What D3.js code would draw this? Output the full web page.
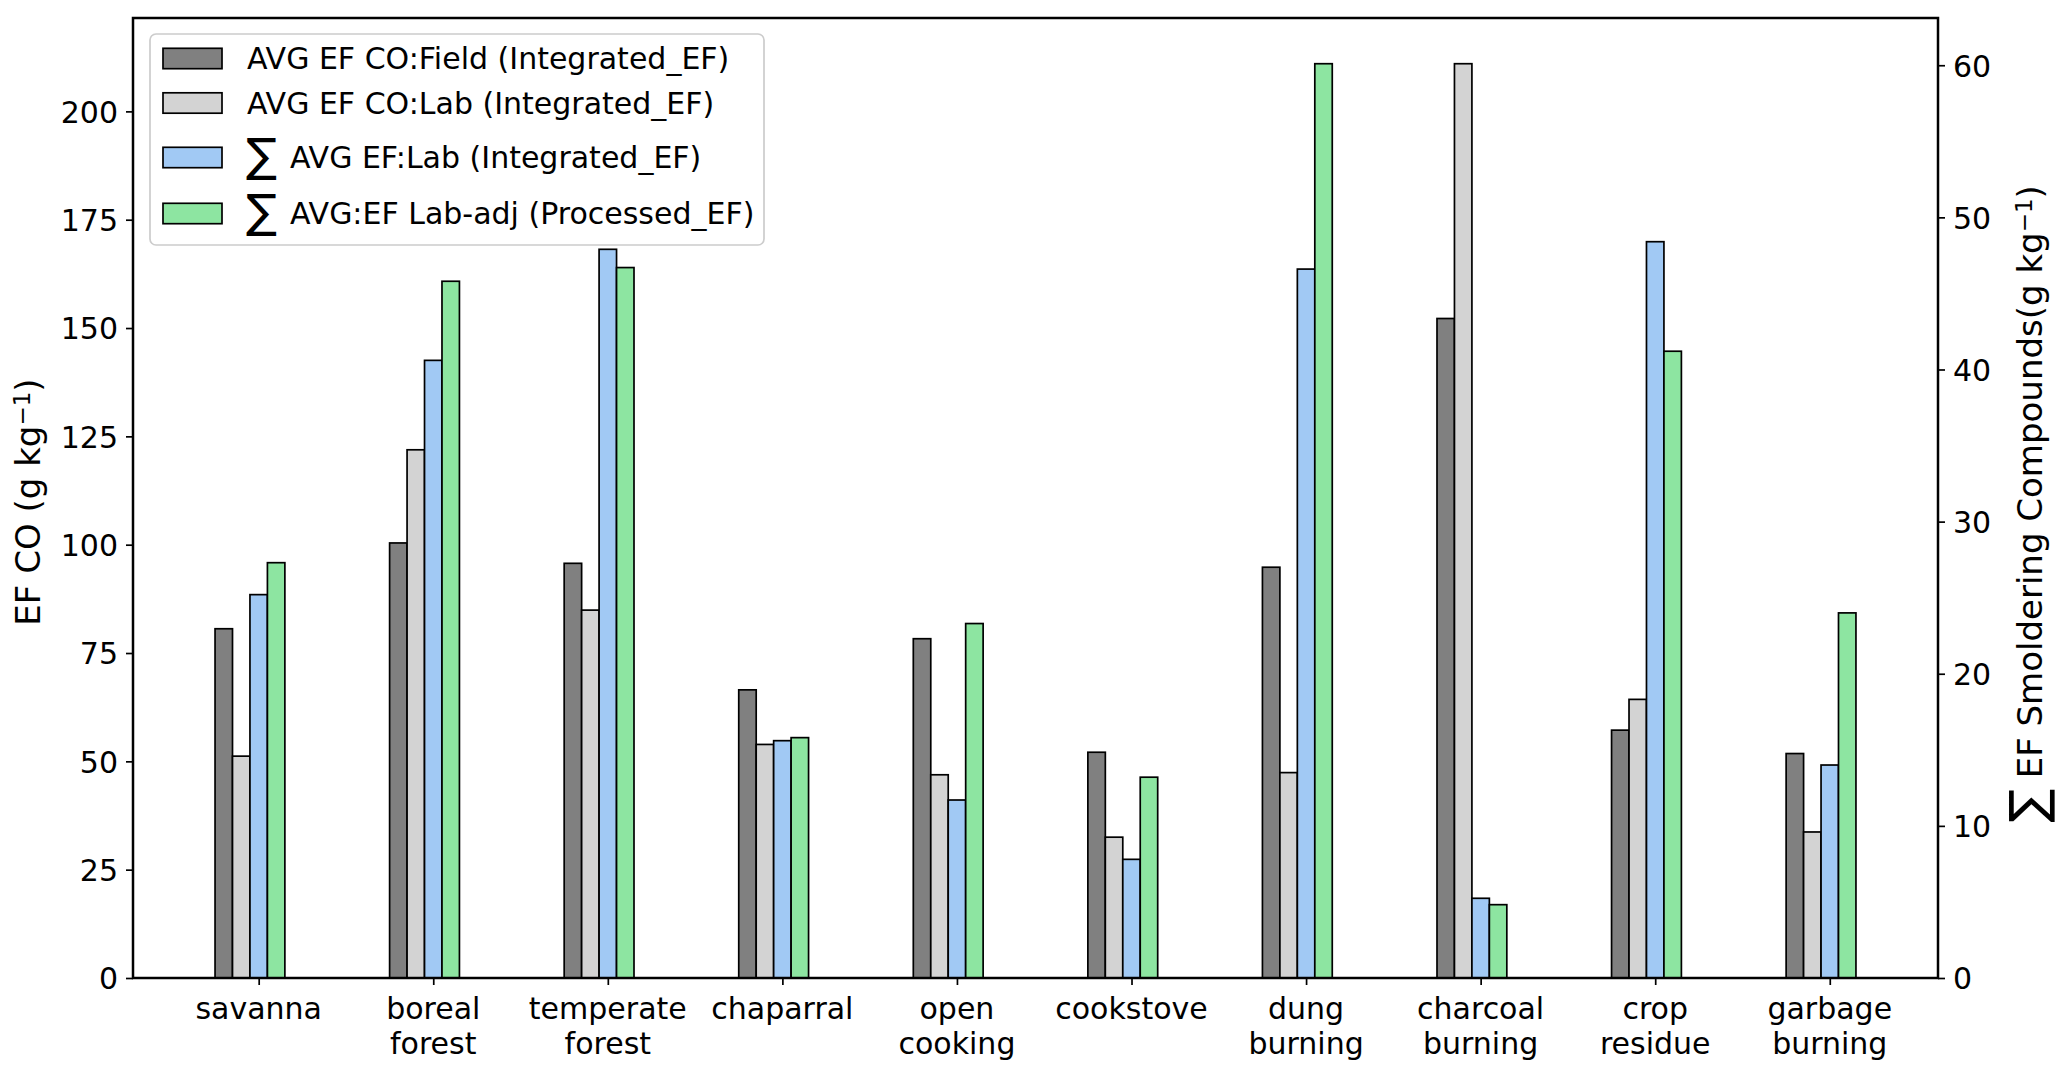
<!DOCTYPE html>
<html>
<head>
<meta charset="utf-8">
<script src="https://cdn.jsdelivr.net/npm/d3@7/dist/d3.min.js"></script>
<style>
  html, body { margin: 0; padding: 0; background: #fff; }
  svg { display: block; }
  text { font-family: "DejaVu Sans", sans-serif; fill: #000; }
</style>
</head>
<body>
<svg id="chart" width="2067" height="1075"></svg>
<script>
// ---- data ----
const categories = ["savanna", "boreal\nforest", "temperate\nforest", "chaparral", "open\ncooking",
                    "cookstove", "dung\nburning", "charcoal\nburning", "crop\nresidue", "garbage\nburning"];
const coField = [80.6, 100.4, 95.7, 66.5, 78.3, 52.1, 94.8, 152.2, 57.2, 51.8];
const coLab   = [51.2, 121.9, 84.9, 53.9, 46.9, 32.5, 47.4, 211.0, 64.3, 33.7];
const sumLab  = [25.2, 40.6, 47.9, 15.6, 11.7, 7.8, 46.6, 5.24, 48.4, 14.0];
const sumAdj  = [27.3, 45.8, 46.7, 15.8, 23.3, 13.2, 60.1, 4.82, 41.2, 24.0];
const leftTicks  = [0, 25, 50, 75, 100, 125, 150, 175, 200];
const rightTicks = [0, 10, 20, 30, 40, 50, 60];
const legendLabels = [
  {sum: false, text: "AVG EF CO:Field (Integrated_EF)"},
  {sum: false, text: "AVG EF CO:Lab (Integrated_EF)"},
  {sum: true,  text: "AVG EF:Lab (Integrated_EF)"},
  {sum: true,  text: "AVG:EF Lab-adj (Processed_EF)"}
];
const colors = ["#808080", "#d3d3d3", "#a1c9f4", "#8de5a1"];

// ---- layout ----
const L = 133, R = 1938, T = 18, B = 978;
const barW = 0.1;
const offsets = [-0.2, -0.1, 0, 0.1];
const svg = d3.select("#chart");

const xMin = -0.25, xMax = categories.length - 1 + 0.15, xPad = (xMax - xMin) * 0.05;
const x = d3.scaleLinear().domain([xMin - xPad, xMax + xPad]).range([L, R]);
const yL = d3.scaleLinear().domain([0, d3.max(coField.concat(coLab)) * 1.05]).range([B, T]);
const yR = d3.scaleLinear().domain([0, d3.max(sumLab.concat(sumAdj)) * 1.05]).range([B, T]);

const series = [
  {vals: coField, y: yL, color: colors[0]},
  {vals: coLab,   y: yL, color: colors[1]},
  {vals: sumLab,  y: yR, color: colors[2]},
  {vals: sumAdj,  y: yR, color: colors[3]}
];

const gBars = svg.append("g");
series.forEach((s, si) => {
  gBars.selectAll(null).data(s.vals).enter().append("rect")
    .attr("x", (d, i) => x(i + offsets[si] - barW / 2))
    .attr("width", (d, i) => x(i + offsets[si] + barW / 2) - x(i + offsets[si] - barW / 2))
    .attr("y", d => s.y(d))
    .attr("height", d => B - s.y(d))
    .attr("fill", s.color)
    .attr("stroke", "#000")
    .attr("stroke-width", 1.7);
});

// ---- axes ----
const tickFont = "30px";
const axL = svg.append("g").attr("transform", `translate(${L},0)`)
  .call(d3.axisLeft(yL).tickValues(leftTicks).tickSize(7).tickPadding(8).tickFormat(d3.format("d")));
const axR = svg.append("g").attr("transform", `translate(${R},0)`)
  .call(d3.axisRight(yR).tickValues(rightTicks).tickSize(7).tickPadding(8).tickFormat(d3.format("d")));
const axB = svg.append("g").attr("transform", `translate(0,${B})`)
  .call(d3.axisBottom(x).tickValues(d3.range(categories.length)).tickSize(7).tickFormat(""));
[axL, axR, axB].forEach(a => {
  a.select(".domain").remove();
  a.selectAll(".tick line").attr("stroke", "#000").attr("stroke-width", 1.7);
  a.selectAll(".tick text").style("font-size", tickFont).attr("font-family", "DejaVu Sans").attr("fill", "#000");
});
axL.selectAll(".tick text").attr("dy", "0.36em");
axR.selectAll(".tick text").attr("dy", "0.36em");

// x category labels (two lines)
const gx = svg.append("g");
categories.forEach((c, i) => {
  const lines = c.split("\n");
  const t = gx.append("text").attr("text-anchor", "middle").style("font-size", tickFont)
    .attr("x", x(i)).attr("y", 1019);
  lines.forEach((ln, k) => {
    t.append("tspan").attr("x", x(i)).attr("dy", k === 0 ? 0 : 34.5).text(ln);
  });
});

// spines
svg.append("rect").attr("x", L).attr("y", T).attr("width", R - L).attr("height", B - T)
  .attr("fill", "none").attr("stroke", "#000").attr("stroke-width", 2.5);

// ---- axis labels ----
const labFont = "34px";
const yl = svg.append("text").attr("transform", `translate(40,${(T + B) / 2 + 4}) rotate(-90)`)
  .attr("text-anchor", "middle").style("font-size", labFont);
yl.append("tspan").text("EF CO (g kg");
yl.append("tspan").attr("baseline-shift", "45%").style("font-size", "23px").text("−1");
yl.append("tspan").text(")");

const yr = svg.append("text").attr("transform", `translate(2042,${(T + B) / 2 + 6}) rotate(-90)`)
  .attr("text-anchor", "middle").style("font-size", labFont);
yr.append("tspan").style("font-size", "50px").attr("dy", 3).text("∑");
yr.append("tspan").attr("dy", -3).text(" EF Smoldering Compounds(g kg");
yr.append("tspan").attr("baseline-shift", "45%").style("font-size", "23px").text("−1");
yr.append("tspan").text(")");

// ---- legend ----
const lg = svg.append("g");
lg.append("rect").attr("x", 150).attr("y", 34).attr("width", 614).attr("height", 211)
  .attr("rx", 6).attr("ry", 6)
  .attr("fill", "#fff").attr("fill-opacity", 0.8).attr("stroke", "#cccccc").attr("stroke-width", 1.7);
const rowCenters = [58.5, 103, 157.5, 213.5];
legendLabels.forEach((lab, i) => {
  const cy = rowCenters[i];
  lg.append("rect").attr("x", 163).attr("y", cy - 10.2).attr("width", 59).attr("height", 20.4)
    .attr("fill", colors[i]).attr("stroke", "#000").attr("stroke-width", 1.7);
  if (lab.sum) {
    lg.append("text").attr("x", 246).attr("y", cy + 13.5).style("font-size", "46px").text("∑");
    lg.append("text").attr("x", 290).attr("y", cy + 10.5).style("font-size", tickFont).text(lab.text);
  } else {
    lg.append("text").attr("x", 247).attr("y", cy + 10.5).style("font-size", tickFont).text(lab.text);
  }
});
</script>
</body>
</html>
